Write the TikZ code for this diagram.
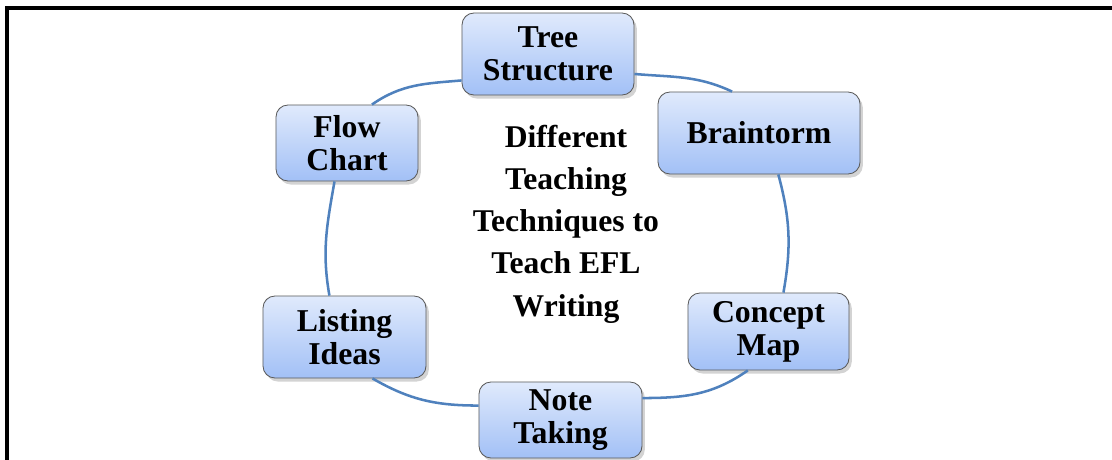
\documentclass[tikz,border=0pt]{standalone}
\usepackage{fontspec}
\setmainfont{Liberation Serif}
\usetikzlibrary{shadows}

\definecolor{cycleblue}{HTML}{4F81BD}
\definecolor{boxtop}{HTML}{E0EAFC}
\definecolor{boxbottom}{HTML}{A2C0F6}
\definecolor{boxedge}{HTML}{5A5A5A}

\begin{document}
\begin{tikzpicture}[x=0.025cm, y=-0.025cm,
        technique/.style={draw=boxedge, line width=0.6pt, rounded corners=0.3cm,
            top color=boxtop, bottom color=boxbottom, align=center, inner sep=2pt,
            font=\fontsize{22.6}{23.5}\selectfont\bfseries,
            drop shadow={shadow xshift=2pt, shadow yshift=-2.5pt, opacity=0.35}},
        cycleline/.style={draw=cycleblue, line width=1.8pt}]
        \useasboundingbox (0,0) rectangle (1112,460);

        % Frame.
        \draw[line width=2.2pt] (7,460) -- (7,8) -- (1112,8);

        % Techniques.
        \node[technique, minimum width=4.3cm, minimum height=2.05cm] (tree) at (548,54) {Tree\\Structure};
        \node[technique, minimum width=5.05cm, minimum height=2.05cm] (brain) at (759,133) {Braintorm};
        \node[technique, minimum width=4.025cm, minimum height=1.925cm] (concept) at (768.5,331.5) {Concept\\Map};
        \node[technique, minimum width=4.075cm, minimum height=1.9cm] (note) at (560.5,420) {Note\\Taking};
        \node[technique, minimum width=4.075cm, minimum height=2.05cm] (listing) at (344.5,337) {Listing\\Ideas};
        \node[technique, minimum width=3.55cm, minimum height=1.9cm] (flow) at (347,143) {Flow\\Chart};

        % Centre.
        \node[align=center, font=\fontsize{22.5}{30}\selectfont\bfseries] (title) at (566,224)
            {Different\\Teaching\\Techniques to\\Teach EFL\\Writing};

        % Cycle.
        \draw[cycleline] (tree.-13) to[out=-5, in=155] (brain.123);
        \draw[cycleline] (brain.-65) to[out=-75, in=80] (concept.69);
        \draw[cycleline] (concept.-118) to[out=-145, in=0] (note.15);
        \draw[cycleline] (note.170) to[out=180, in=-30] (listing.-56);
        \draw[cycleline] (listing.110) to[out=100, in=-100] (flow.-108);
        \draw[cycleline] (flow.57) to[out=35, in=-175] (tree.-163);

    \end{tikzpicture}
\end{document}
